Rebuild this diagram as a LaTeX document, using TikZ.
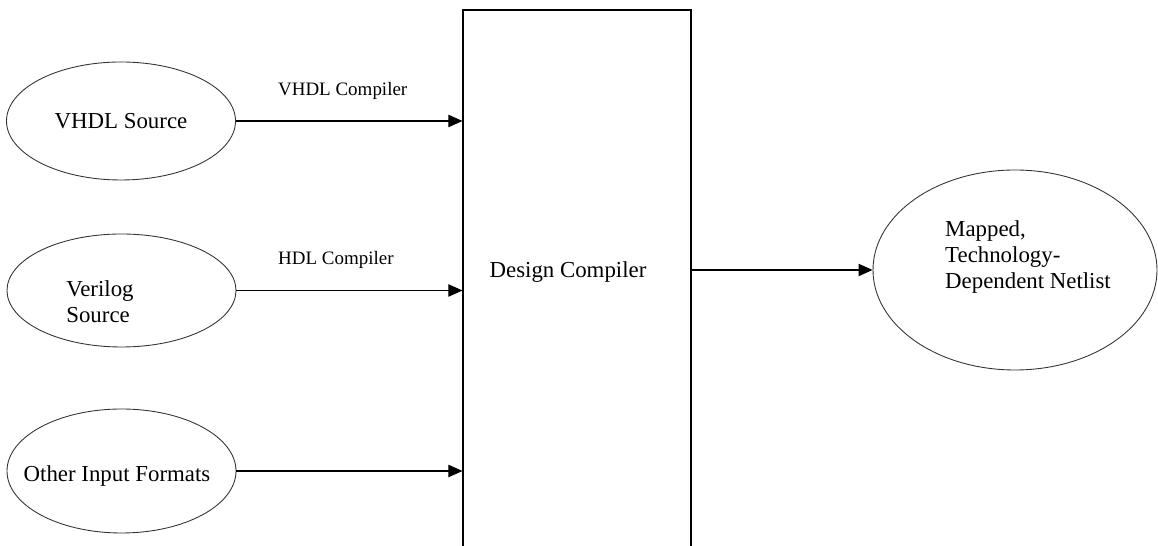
\documentclass[tikz,border=0pt]{standalone}
\usepackage{fontspec}
\setmainfont{Liberation Serif}
\usepackage{tikz}
\usetikzlibrary{positioning,shapes.geometric,arrows.meta,calc}

\begin{document}
\begin{tikzpicture}[
    src/.style={draw=black!80, ellipse, line width=0.5pt, minimum width=4.58cm, minimum height=2.4cm, inner sep=0pt, font=\fontsize{13}{15}\selectfont},
    txt/.style={align=left, inner sep=0pt, font=\fontsize{13}{15}\selectfont},
    flow/.style={-{Triangle[length=8pt, width=7pt]}, line width=0.6pt},
    tag/.style={font=\fontsize{10.8}{12}\selectfont, inner sep=0pt}
]

% Frame
\clip (0, 0) rectangle (23.16, 10.92);

% Sources
\node[src, minimum height=2.36cm] (vhdl) at (2.42, 8.50) {VHDL Source};
\node[src, minimum height=2.26cm] (verilog) at (2.43, 5.11) {};
\node[txt] (verilogtxt) at (2.00, 4.88) {Verilog\\Source};
\node[src, minimum height=2.48cm] (other) at (2.43, 1.50) {};
\node[txt] (othertxt) at (2.34, 1.40) {Other Input Formats};

% Design Compiler block
\node[draw, rectangle, line width=0.6pt, minimum width=4.56cm, minimum height=11.2cm] (dc) at (11.54, 5.12) {};
\node[txt] (dctxt) at (11.36, 5.48) {Design Compiler};

% Netlist
\node[src, minimum width=5.68cm, minimum height=4.0cm] (out) at (20.30, 5.52) {};
\node[txt] (outtxt) at (20.56, 5.78) {Mapped,\\Technology-\\Dependent Netlist};

% Arrows
\draw[flow] (vhdl.east) -- (dc.west |- vhdl.east) node[tag, midway, above=0.42cm, xshift=-0.13cm] (vhdlc) {VHDL Compiler};
\draw[flow] (verilog.east) -- (dc.west |- verilog.east) node[tag, midway, above=0.42cm, xshift=-0.27cm] (hdlc) {HDL Compiler};
\draw[flow] (other.east) -- (dc.west |- other.east);
\draw[flow] (dc.east |- out.west) -- (out.west);

\end{tikzpicture}
\end{document}
